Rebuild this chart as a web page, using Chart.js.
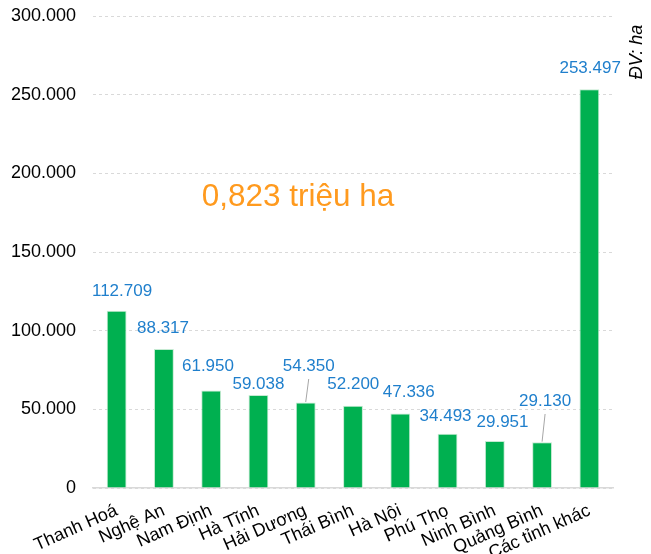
<!DOCTYPE html>
<html><head><meta charset="utf-8">
<script src="https://cdn.jsdelivr.net/npm/chart.js@4"></script>
<style>html,body{margin:0;padding:0;background:#fff}#wrap{width:651px;height:554px;position:relative}</style>
</head><body><div id="wrap"><canvas id="c"></canvas></div>
<script>
const categories = ["Thanh Hoá","Nghệ An","Nam Định","Hà Tĩnh","Hải Dương","Thái Bình","Hà Nội","Phú Thọ","Ninh Bình","Quảng Bình","Các tỉnh khác"];
const areaHa = [112709, 88317, 61950, 59038, 54350, 52200, 47336, 34493, 29951, 29130, 253497];
const yTicks = [0, 50000, 100000, 150000, 200000, 250000, 300000];
const totalLabel = "0,823 triệu ha";
const unitLabel = "ĐV: ha";
// label placement (offset from bar top centre), style only
const labelOffsets = [[5.4,-19.7],[-0.9,-21],[-3.2,-24.5],[0,-10.4],[3,-36.5],[0.3,-21.9],[8.5,-21],[-2,-17.7],[7.7,-18.9],[3,-41.2],[0.8,-21.1]];
const leaderLines = [false,false,false,false,true,false,false,false,false,true,false];

function fmt(v){ return String(v).replace(/\B(?=(\d{3})+(?!\d))/g, '.'); }

const FONT = "'Liberation Sans', Arial, sans-serif";

const labelPlugin = {
  id: 'labels',
  afterDatasetsDraw(chart){
    const ctx = chart.ctx;
    const meta = chart.getDatasetMeta(0);
    ctx.save();
    meta.data.forEach((bar, i) => {
      const lx = bar.x + labelOffsets[i][0];
      const ly = bar.y + labelOffsets[i][1];
      if (leaderLines[i]) {
        ctx.strokeStyle = '#a6a6a6';
        ctx.lineWidth = 1;
        ctx.beginPath();
        ctx.moveTo(lx, ly + 13);
        ctx.lineTo(bar.x, bar.y - 0.5);
        ctx.stroke();
      }
      ctx.fillStyle = '#1f7fcc';
      ctx.font = "17px " + FONT;
      ctx.textAlign = 'center';
      ctx.textBaseline = 'middle';
      ctx.fillText(fmt(areaHa[i]), lx, ly);
    });
    const ca = chart.chartArea;
    ctx.fillStyle = '#ff9a1e';
    ctx.font = "31.5px " + FONT;
    ctx.textAlign = 'center';
    ctx.textBaseline = 'alphabetic';
    ctx.fillText(totalLabel, ca.left + 205, 206);
    ctx.translate(637, 52);
    ctx.rotate(-Math.PI/2);
    ctx.fillStyle = '#000';
    ctx.font = "italic 18px " + FONT;
    ctx.textAlign = 'center';
    ctx.textBaseline = 'middle';
    ctx.fillText(unitLabel, 0, 0);
    ctx.restore();
  }
};

new Chart(document.getElementById('c'), {
  type: 'bar',
  data: {
    labels: categories,
    datasets: [{
      data: areaHa,
      backgroundColor: '#00b050',
      borderColor: '#c5ead2',
      borderWidth: 1,
      barPercentage: 0.42,
      categoryPercentage: 1.0
    }]
  },
  options: {
    responsive: true,
    maintainAspectRatio: false,
    animation: false,
    layout: { padding: { top: 16, right: 38, left: 0, bottom: 0 } },
    plugins: { legend: { display: false }, tooltip: { enabled: false } },
    scales: {
      x: {
        grid: { display: false, drawTicks: false },
        border: { display: true, color: '#d9d9d9', width: 1.5 },
        ticks: { color: '#000', font: { family: FONT, size: 18 }, minRotation: 24, maxRotation: 24, padding: 12, autoSkip: false },
        afterFit(s){ s.height = 66; s.paddingLeft = 0; s.paddingRight = 0; }
      },
      y: {
        min: 0, max: 300000,
        afterBuildTicks(s){ s.ticks = yTicks.map(v => ({ value: v })); },
        grid: { color: '#d9d9d9', drawTicks: false, lineWidth: 1 },
        border: { display: false, dash: [3,3] },
        ticks: { color: '#000', font: { family: FONT, size: 18 }, padding: 17, callback: v => fmt(v) },
        afterFit(s){ s.width = 93; s.paddingTop = 0; s.paddingBottom = 0; }
      }
    }
  },
  plugins: [labelPlugin]
});
</script></body></html>
